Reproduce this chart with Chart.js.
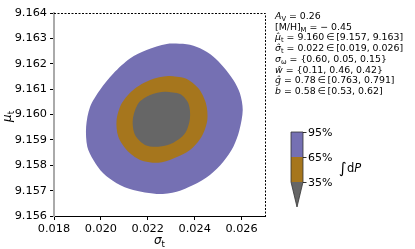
<!DOCTYPE html>
<html>
<head>
<meta charset="utf-8">
<script src="https://cdn.jsdelivr.net/npm/chart.js@4.4.0/dist/chart.umd.min.js"></script>
<style>
html,body{margin:0;padding:0;background:#fff;}
canvas{display:block;}
</style>
</head>
<body>
<canvas id="c" width="415" height="249"></canvas>
<script>
// ---- data ----
const xTicks = [0.018, 0.020, 0.022, 0.024, 0.026];
const yTicks = [9.156, 9.157, 9.158, 9.159, 9.160, 9.161, 9.162, 9.163, 9.164];

// 95% contour (sigma_t, mu_t)
const outerSigma = [0.02281,0.02366,0.02423,0.02480,0.02522,0.02565,0.02593,0.02605,0.02591,0.02565,0.02522,0.02465,0.02394,0.02323,0.02238,0.02138,0.02067,0.02010,0.01968,0.01942,0.01937,0.01954,0.01996,0.02053,0.02124,0.02195];
const outerMu    = [9.16278,9.16277,9.16261,9.16228,9.16188,9.16136,9.16084,9.16018,9.15939,9.15873,9.15814,9.15762,9.15722,9.15696,9.15687,9.15702,9.15729,9.15768,9.15821,9.15873,9.15952,9.16031,9.16097,9.16162,9.16221,9.16254];
// 65% contour
const midSigma = [0.02288,0.02359,0.02416,0.02448,0.02454,0.02430,0.02380,0.02309,0.02245,0.02167,0.02110,0.02074,0.02067,0.02089,0.02138,0.02210];
const midMu    = [9.16152,9.16143,9.16103,9.16044,9.15978,9.15913,9.15860,9.15827,9.15810,9.15821,9.15860,9.15913,9.15978,9.16044,9.16097,9.16136];
// 35% contour
const innerSigma = [0.02274,0.02338,0.02373,0.02380,0.02359,0.02309,0.02245,0.02188,0.02146,0.02136,0.02160,0.02210];
const innerMu    = [9.16090,9.16081,9.16044,9.15985,9.15926,9.15889,9.15873,9.15880,9.15919,9.15978,9.16044,9.16077];

const levelLabels = ['95%', '65%', '35%'];
const levelColors = ['#7570b3', '#a6761d', '#666666'];

// info text lines: segments [text, style] style: n normal, i italic, s subscript
const infoLines = [
  [['A','i'],['V','s'],[' = 0.26','n']],
  [['[M/H]','n'],['M','s'],[' = \u2212 0.45','n']],
  [['\u03bc\u0302','i'],['t','s'],[' = 9.160\u2009\u2208\u2009[9.157, 9.163]','n']],
  [['\u03c3\u0302','i'],['t','s'],[' = 0.022\u2009\u2208\u2009[0.019, 0.026]','n']],
  [['\u03c3','i'],['\u03c9','s'],[' = {0.60, 0.05, 0.15}','n']],
  [['w\u0302','i'],[' = {0.11, 0.46, 0.42}','n']],
  [['q\u0302','i'],[' = 0.78\u2009\u2208\u2009[0.763, 0.791]','n']],
  [['b\u0302','i'],[' = 0.58\u2009\u2208\u2009[0.53, 0.62]','n']]
];

function pts(xs, ys) {
  const p = xs.map((x, i) => ({x: x, y: ys[i]}));
  // close the loop smoothly
  p.push({x: xs[0], y: ys[0]});
  p.push({x: xs[1], y: ys[1]});
  return p;
}

const FONT = 'DejaVu Sans';

function drawRich(ctx, x, y, segs, size) {
  ctx.textBaseline = 'alphabetic';
  ctx.textAlign = 'left';
  for (const [t, st] of segs) {
    let fs = size, dy = 0, it = '';
    if (st === 's') { fs = size * 0.72; dy = size * 0.22; }
    if (st === 'i') it = 'italic ';
    ctx.font = it + fs + 'px "' + FONT + '"';
    ctx.fillText(t, x, y + dy);
    x += ctx.measureText(t).width;
  }
}

const decor = {
  id: 'decor',
  afterDraw(chart) {
    const ctx = chart.ctx;
    const a = chart.chartArea;
    ctx.save();
    // dashed top & right frame
    ctx.strokeStyle = '#000';
    ctx.lineWidth = 1;
    ctx.setLineDash([2, 1.5]);
    ctx.beginPath();
    ctx.moveTo(a.left, a.top + 0.5);
    ctx.lineTo(a.right + 0.5, a.top + 0.5);
    ctx.lineTo(a.right + 0.5, a.bottom);
    ctx.stroke();
    ctx.setLineDash([]);

    // axis titles
    ctx.fillStyle = '#000';
    drawRich(ctx, 154, 244, [['\u03c3','i'],['t','s']], 12);
    ctx.save();
    ctx.translate(11, 122);
    ctx.rotate(-Math.PI / 2);
    drawRich(ctx, 0, 0, [['\u03bc','i'],['t','s']], 12);
    ctx.restore();

    // info text
    let ly = 19;
    for (const line of infoLines) {
      drawRich(ctx, 275, ly, line, 9.4);
      ly += 10.7;
    }

    // colour bar
    const cx0 = 291, cx1 = 303;
    const ys = [132, 157, 182];
    ctx.fillStyle = levelColors[0];
    ctx.fillRect(cx0, ys[0], cx1 - cx0, ys[1] - ys[0]);
    ctx.fillStyle = levelColors[1];
    ctx.fillRect(cx0, ys[1], cx1 - cx0, ys[2] - ys[1]);
    ctx.fillStyle = levelColors[2];
    ctx.beginPath();
    ctx.moveTo(cx0, ys[2]);
    ctx.lineTo(cx1, ys[2]);
    ctx.lineTo((cx0 + cx1) / 2, 207);
    ctx.closePath();
    ctx.fill();
    ctx.strokeStyle = '#333';
    ctx.lineWidth = 0.8;
    ctx.beginPath();
    ctx.moveTo(cx0, ys[2]);
    ctx.lineTo(cx0, ys[0]);
    ctx.lineTo(cx1, ys[0]);
    ctx.lineTo(cx1, ys[2]);
    ctx.lineTo((cx0 + cx1) / 2, 207);
    ctx.lineTo(cx0, ys[2]);
    ctx.stroke();
    ctx.fillStyle = '#000';
    ctx.font = '11px "' + FONT + '"';
    ctx.textBaseline = 'middle';
    ctx.textAlign = 'left';
    ctx.strokeStyle = '#000';
    for (let i = 0; i < 3; i++) {
      ctx.beginPath();
      ctx.moveTo(cx1, ys[i] + 0.5);
      ctx.lineTo(cx1 + 3.5, ys[i] + 0.5);
      ctx.stroke();
      ctx.fillText(levelLabels[i], cx1 + 5, ys[i] + 1);
    }
    // ∫dP label
    ctx.font = '15px "' + FONT + '"';
    ctx.textBaseline = 'alphabetic';
    ctx.fillText('\u222b', 339, 173);
    drawRich(ctx, 347, 172, [['d','n'],['P','i']], 11.5);
    ctx.restore();
  }
};

const ds = (label, xs, ys, color) => ({
  label: label,
  data: pts(xs, ys),
  showLine: true,
  fill: 'shape',
  backgroundColor: color,
  borderColor: color,
  borderWidth: 0,
  pointRadius: 0,
  tension: 0.3
});

new Chart(document.getElementById('c'), {
  type: 'scatter',
  data: {
    datasets: [
      ds('35%', innerSigma, innerMu, levelColors[2]),
      ds('65%', midSigma, midMu, levelColors[1]),
      ds('95%', outerSigma, outerMu, levelColors[0])
    ]
  },
  options: {
    responsive: false,
    animation: false,
    devicePixelRatio: 1,
    layout: { padding: { left: 0, right: 150, top: 13, bottom: 0 } },
    plugins: { legend: { display: false }, tooltip: { enabled: false } },
    scales: {
      x: {
        type: 'linear',
        min: 0.018, max: 0.027,
        afterBuildTicks: s => { s.ticks = xTicks.map(v => ({ value: v })); },
        afterFit: s => { s.height = 33; },
        ticks: {
          callback: v => v.toFixed(3),
          color: '#000',
          font: { family: FONT, size: 11.3 },
          padding: 2,
          maxRotation: 0,
          autoSkip: false
        },
        grid: { drawOnChartArea: false, drawTicks: true, tickLength: 4, color: '#000' },
        border: { display: true, color: '#000', width: 1 }
      },
      y: {
        type: 'linear',
        min: 9.156, max: 9.164,
        afterBuildTicks: s => { s.ticks = yTicks.map(v => ({ value: v })); },
        afterFit: s => { s.width = 54; },
        ticks: {
          callback: v => v.toFixed(3),
          color: '#000',
          font: { family: FONT, size: 11.3 },
          padding: 3,
          autoSkip: false
        },
        grid: { drawOnChartArea: false, drawTicks: true, tickLength: 4, color: '#000' },
        border: { display: true, color: '#aaaaaa', width: 2 }
      }
    }
  },
  plugins: [decor]
});
</script>
</body>
</html>
